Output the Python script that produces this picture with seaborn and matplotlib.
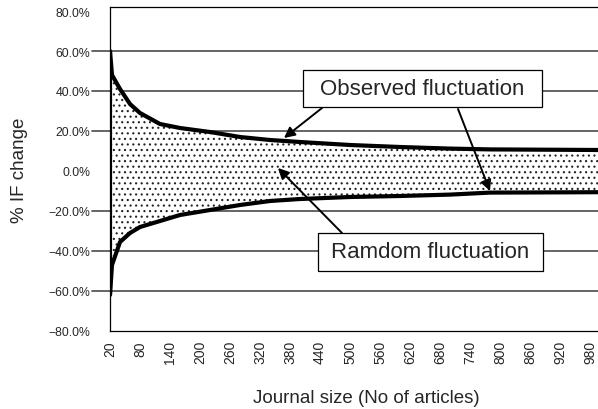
import numpy as np
import pandas as pd
import seaborn as sns
import matplotlib.pyplot as plt
from matplotlib.patches import Rectangle
from matplotlib.ticker import PercentFormatter

# Values (journal size vs. % change of the impact factor)
journal_size = [20, 24, 40, 60, 80, 120, 160, 220, 280, 340, 400, 500, 600, 700, 780, 1000]
upper_change = [60, 48, 41, 33.5, 29, 23.5, 21.5, 19.5, 17, 15.5, 14.5, 13, 12, 11.2, 10.8, 10.5]
lower_change = [-62, -47, -35.5, -31, -28, -25, -22, -19.5, -17, -15, -14, -13, -12.5, -11.8, -10.8, -10.6]

x_ticks = list(range(20, 1000, 60))
y_ticks = [-80, -60, -40, -20, 0, 20, 40, 60, 80]
grid_levels = [-60, -40, -20, 20, 40, 60]

OBSERVED_LABEL = "Observed fluctuation"
RANDOM_LABEL = "Ramdom fluctuation"

sns.set_style("white")
plt.rcParams['font.family'] = ['Liberation Sans', 'DejaVu Sans']
plt.rcParams['hatch.linewidth'] = 0.8

df = pd.DataFrame({"size": journal_size, "upper": upper_change, "lower": lower_change})

fig = plt.figure(figsize=(5.98, 4.10), dpi=100)
ax = fig.add_axes([110 / 598, 78 / 410, 490 / 598, 324 / 410])

# grid lines that also stick out to the left like tick marks
for level in grid_levels:
    ax.axhline(level, xmin=-0.037, xmax=1, color="#4a4a4a", lw=1.2, clip_on=False, zorder=1)

# band between the two curves, white with a dot pattern
ax.fill_between(df["size"], df["lower"], df["upper"], facecolor="white",
                edgecolor="#222222", hatch="...", linewidth=0, zorder=2)

sns.lineplot(data=df, x="size", y="upper", color="black", lw=3, ax=ax, zorder=3)
sns.lineplot(data=df, x="size", y="lower", color="black", lw=3, ax=ax, zorder=3)
ax.plot([journal_size[0], journal_size[0]], [lower_change[0], upper_change[0]],
        color="black", lw=3, zorder=3, solid_capstyle="butt")

ax.set_xlim(20, 1000)
ax.set_ylim(-80, 82)

ax.set_xticks(x_ticks)
ax.set_xticklabels([str(v) for v in x_ticks], rotation=90, fontsize=10)
ax.tick_params(axis="x", length=0, pad=6.5)

ax.set_yticks(y_ticks)
ax.yaxis.set_major_formatter(PercentFormatter(xmax=100, decimals=1))
ax.tick_params(axis="y", length=0, pad=14, labelsize=8.8)
ax.grid(False)

for side in ["left", "top", "bottom"]:
    ax.spines[side].set_color("black")
    ax.spines[side].set_linewidth(0.9)
ax.spines["right"].set_visible(False)

ax.set_xlabel("Journal size (No of articles)", fontsize=13.5)
ax.xaxis.set_label_coords(0.524, -0.205)
ax.xaxis.label.set_va("center")
ax.set_ylabel("% IF change", fontsize=13.5)
ax.yaxis.set_label_coords(-0.184, 0.5)
ax.yaxis.label.set_va("center")

# annotation boxes
ax.add_patch(Rectangle((406, 32), 478, 18.5, facecolor="white", edgecolor="black",
                       lw=0.9, zorder=5))
ax.text(645, 41.2, OBSERVED_LABEL, ha="center", va="center", fontsize=16, zorder=6)
ax.add_patch(Rectangle((436, -50), 450, 19, facecolor="white", edgecolor="black",
                       lw=0.9, zorder=5))
ax.text(661, -40.5, RANDOM_LABEL, ha="center", va="center", fontsize=16, zorder=6)

arrow = dict(arrowstyle="-|>", color="black", lw=1.4, mutation_scale=16, shrinkA=0, shrinkB=0)
ax.annotate("", xy=(368, 16.5), xytext=(444, 31.5), arrowprops=arrow, zorder=7)
ax.annotate("", xy=(780, -10), xytext=(716, 31), arrowprops=arrow, zorder=7)
ax.annotate("", xy=(356, 1.5), xytext=(484, -31), arrowprops=arrow, zorder=7)

fig.savefig("out.png", dpi=100)
